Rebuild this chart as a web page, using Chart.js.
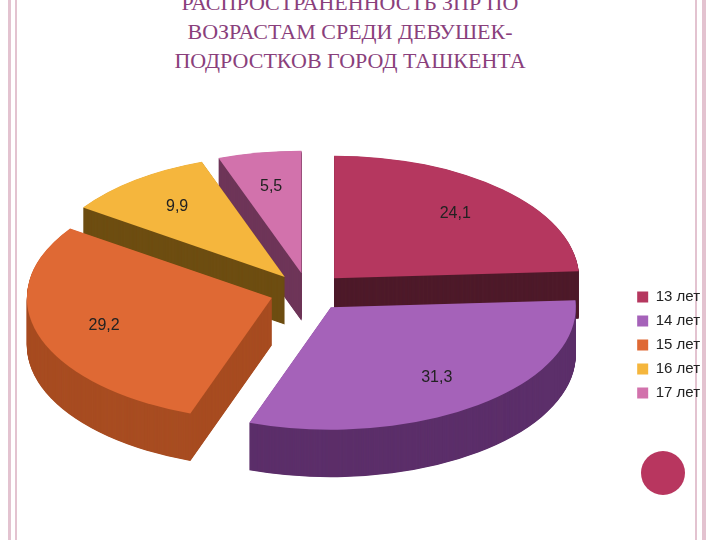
<!DOCTYPE html>
<html><head><meta charset="utf-8">
<script src="https://cdn.jsdelivr.net/npm/chart.js@4"></script>
<style>
html,body{margin:0;padding:0;background:#fff;width:720px;height:540px;overflow:hidden;position:relative}
#t{position:absolute;top:-12px;left:60px;width:580px;text-align:center;font-family:"Liberation Serif","Times New Roman","DejaVu Serif",serif;font-size:22px;line-height:29px;color:#8a3f7c;}
.b{position:absolute;top:0;height:540px;background:#e3c3d0}
#c{position:absolute;left:0;top:0}
</style></head><body>
<div class="b" style="left:8px;width:3px"></div><div class="b" style="left:15px;width:2px"></div>
<div class="b" style="left:695px;width:2px"></div><div class="b" style="left:702px;width:4px"></div>
<div id="t">РАСПРОСТРАНЕННОСТЬ ЗПР ПО<br>ВОЗРАСТАМ СРЕДИ ДЕВУШЕК-<br>ПОДРОСТКОВ ГОРОД ТАШКЕНТА</div>
<div style="position:absolute;left:641px;top:451px;width:44px;height:44px;border-radius:50%;background:#b8365f"></div>
<canvas id="c" width="720" height="540"></canvas>
<script>
const categories=["13 лет","14 лет","15 лет","16 лет","17 лет"];
const values=[24.1,31.3,29.2,9.9,5.5];
const colors=["#b5375f","#a562b9","#df6934","#f5b63d","#d272ac"];
const sides=["#4e1a2a","#5c2f6a","#a84d22","#6e4e12","#6e3558"];
const CX=308,CY=292,SY=0.5,DEPTH=95,OFF=38,R=245;
function sector(ctx,e,dy){
  const p=e.getProps(['x','y','startAngle','endAngle']);
  const mid=(p.startAngle+p.endAngle)/2;
  const x=p.x+Math.cos(mid)*OFF, y=p.y+Math.sin(mid)*OFF+dy;
  ctx.beginPath();ctx.moveTo(x,y);ctx.arc(x,y,R,p.startAngle,p.endAngle);ctx.closePath();ctx.fill();
}
const threeD={id:'threeD',
 beforeDatasetsDraw(chart){
  const ctx=chart.ctx, m=chart.getDatasetMeta(0), e0=m.data[0];
  ctx.save();ctx.translate(CX,CY);ctx.scale(1,SY);ctx.translate(-e0.x,-e0.y);
  for(let k=DEPTH;k>0;k-=1){m.data.forEach((e,i)=>{ctx.fillStyle=sides[i];sector(ctx,e,k);});}
  m.data.forEach((e,i)=>{ctx.fillStyle=colors[i];sector(ctx,e,0);});
  ctx.restore();
  return false;
 },
 afterDraw(chart){
  const ctx=chart.ctx;
  const m=chart.getDatasetMeta(0);
  ctx.save();ctx.font="16px 'Liberation Sans', Arial";ctx.fillStyle="#222";ctx.textAlign="center";ctx.textBaseline="middle";
  m.data.forEach((e,i)=>{
   const p=e.getProps(['startAngle','endAngle']);const mid=(p.startAngle+p.endAngle)/2;
   const r=R*0.72+OFF;
   ctx.fillText(String(values[i]).replace('.',','),CX+Math.cos(mid)*r,CY+Math.sin(mid)*r*SY);
  });ctx.restore();
 }};
new Chart(document.getElementById('c'),{type:'pie',
 data:{labels:categories,datasets:[{data:values,backgroundColor:colors,borderWidth:0}]},
 options:{responsive:false,animation:false,layout:{padding:{top:190,bottom:40,right:10}},
  plugins:{tooltip:{enabled:false},legend:{position:'right',labels:{boxWidth:11,boxHeight:11,font:{size:15,family:"'Liberation Sans', Arial"},color:'#222',padding:9}}}},
 plugins:[threeD]});
</script></body></html>
